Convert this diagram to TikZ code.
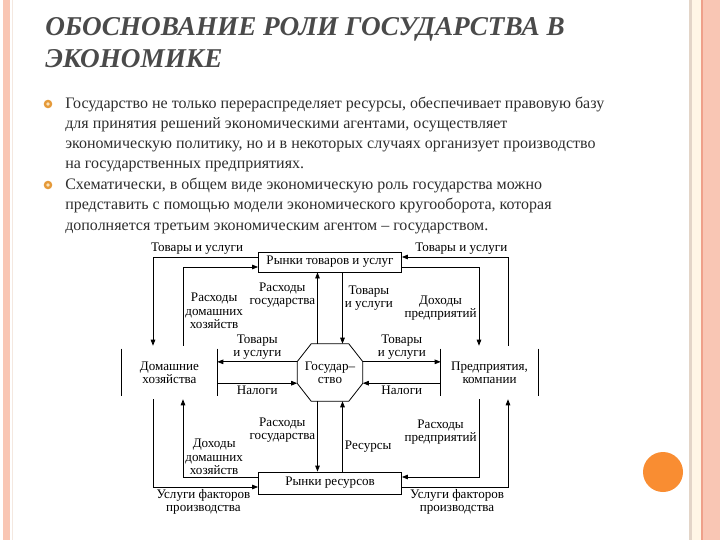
\documentclass[tikz,border=0pt]{standalone}
\usepackage{fontspec}
\setmainfont{Liberation Serif}
\usetikzlibrary{arrows.meta}

\definecolor{bandpink}{HTML}{F9C6B4}
\definecolor{bandline}{HTML}{F4E8E0}
\definecolor{bandbeige}{HTML}{E3D5C8}
\definecolor{bandcream}{HTML}{FFF6E6}
\definecolor{bandorange}{HTML}{EFA08A}
\definecolor{dotorange}{HTML}{F98D32}
\definecolor{titlegray}{HTML}{4A4A4A}
\definecolor{bodygray}{HTML}{2E2E2E}
\definecolor{bulletorange}{HTML}{E59A3A}
\definecolor{bulletpale}{HTML}{FBE3BC}

\begin{document}
\begin{tikzpicture}[x=0.75pt,y=-0.75pt,>={Triangle[length=4.5pt,width=3.4pt]},
  flow/.style={->,line width=.6pt},
  lbl/.style={font=\fontsize{9.8}{10}\selectfont,align=center,inner sep=1.5pt},
  mkt/.style={draw,line width=.6pt,minimum width=107.25pt,inner sep=0pt,
    font=\fontsize{9.8}{10}\selectfont},
  agent/.style={minimum height=39.75pt,inner sep=0pt,
    align=center,font=\fontsize{9.8}{10}\selectfont},
  bodyline/.style={anchor=base west,inner sep=0pt,text=bodygray,
    font=\fontsize{12}{15}\selectfont}]

\useasboundingbox (0,0) rectangle (720,540);
\fill[white] (0,0) rectangle (720,540);

% side bands
\fill[bandpink] (3,0) rectangle (10,540);
\draw[bandline,line width=.75pt] (12,0) -- (12,540);
\fill[bandbeige] (689,0) rectangle (691.5,540);
\fill[bandcream] (691.5,0) rectangle (700.5,540);
\fill[bandorange] (700.5,0) rectangle (703,540);
\fill[bandpink] (703,0) rectangle (720,540);
\fill[dotorange] (663,472) circle[radius=20];

% title
\node[anchor=base west,inner sep=0pt,text=titlegray,
  font=\fontsize{20.4}{24}\selectfont\bfseries\itshape] (title1) at (45,35)
  {ОБОСНОВАНИЕ РОЛИ ГОСУДАРСТВА В};
\node[anchor=base west,inner sep=0pt,text=titlegray,
  font=\fontsize{20.4}{24}\selectfont\bfseries\itshape] (title2) at (45,67)
  {ЭКОНОМИКЕ};

% bullets and text
\foreach \yb in {104,185}{
  \fill[bulletorange] (48,\yb) circle[radius=4.3];
  \fill[bulletpale] (48,\yb) circle[radius=1.8];
}
\foreach \t [count=\i] in {{Государство не только перераспределяет ресурсы, обеспечивает правовую базу},
    {для принятия решений экономическими агентами, осуществляет},
    {экономическую политику, но и в некоторых случаях организует производство},
    {на государственных предприятиях.}}
  \node[bodyline] (a\i) at (65,88+20*\i) {\t};
\foreach \t [count=\i] in {{Схематически, в общем виде экономическую роль государства можно},
    {представить с помощью модели экономического кругооборота, которая},
    {дополняется третьим экономическим агентом – государством.}}
  \node[bodyline] (b\i) at (65,168.5+20.5*\i) {\t};

% agents and markets
\node[mkt,minimum height=15pt] (gm) at (330,262) {Рынки товаров и услуг};
\node[mkt,minimum height=16.5pt] (rm) at (330,483) {Рынки ресурсов};
\node[agent,minimum width=71.25pt] (hh) at (169.5,372.5) {Домашние\\хозяйства};
\node[agent,minimum width=72.75pt] (firm) at (489.5,372.5) {Предприятия,\\компании};
\node[minimum width=48.75pt,minimum height=42.75pt,inner sep=0pt,align=center,
  font=\fontsize{9.8}{10}\selectfont] (gov) at (330,372.5) {Государ–\\ство};

\draw[line width=.6pt] ([xshift=10.5pt]gov.north west) -- ([xshift=-10.5pt]gov.north east)
  -- ([yshift=-13.4pt]gov.north east) -- ([yshift=13.4pt]gov.south east)
  -- ([xshift=-10.5pt]gov.south east) -- ([xshift=10.5pt]gov.south west)
  -- ([yshift=13.4pt]gov.south west) -- ([yshift=-13.4pt]gov.north west) -- cycle;
\foreach \n in {hh,firm}{
  \draw[line width=.6pt] ([yshift=-2.25pt]\n.north west) -- ([yshift=2.25pt]\n.south west);
  \draw[line width=.6pt] ([yshift=-2.25pt]\n.north east) -- ([yshift=2.25pt]\n.south east);
}

% goods market flows
\draw[flow] ([yshift=3.75pt]gm.west) -| ([xshift=-12.375pt]hh.north)
  node[lbl,pos=.29,above] (l1) {Товары и услуги};
\draw[flow] ([xshift=10.125pt]hh.north) |- ([yshift=-3.75pt]gm.west)
  node[lbl,pos=.22,right] (l2) {Расходы\\домашних\\хозяйств};
\draw[flow] ([xshift=13.875pt]firm.north) |- ([yshift=3.75pt]gm.east)
  node[lbl,pos=.72,above] (l3) {Товары и услуги};
\draw[flow] ([yshift=-3.75pt]gm.east) -| ([xshift=-7.875pt]firm.north)
  node[lbl,pos=.76,left] (l4) {Доходы\\предприятий};
\draw[flow] ([xshift=-9.375pt]gov.north) -- ([xshift=-9.375pt]gm.south)
  node[lbl,pos=.68,left] (l5) {Расходы\\государства};
\draw[flow] ([xshift=9.375pt]gm.south) -- ([xshift=9.375pt]gov.north)
  node[lbl,pos=.36,right] (l6) {Товары\\и услуги};

% state
\draw[flow] ([yshift=8pt]gov.west) -- ([yshift=8pt]hh.east)
  node[lbl,midway,above] (l7) {Товары\\и услуги};
\draw[flow] ([yshift=-8pt]hh.east) -- ([yshift=-8pt]gov.west)
  node[lbl,midway,below] (l8) {Налоги};
\draw[flow] ([yshift=8pt]gov.east) -- ([yshift=8pt]firm.west)
  node[lbl,midway,above] (l9) {Товары\\и услуги};
\draw[flow] ([yshift=-8pt]firm.west) -- ([yshift=-8pt]gov.east)
  node[lbl,midway,below] (l10) {Налоги};

% resource market flows
\draw[flow] ([xshift=-12.375pt]hh.south) |- ([yshift=-3pt]rm.west)
  node[lbl,pos=.74,below] (l11) {Услуги факторов\\производства};
\draw[flow] ([yshift=4.5pt]rm.west) -| ([xshift=10.125pt]hh.south)
  node[lbl,pos=.63,right] (l12) {Доходы\\домашних\\хозяйств};
\draw[flow] ([xshift=-9.375pt]gov.south) -- ([xshift=-9.375pt]rm.north)
  node[lbl,pos=.41,left] (l13) {Расходы\\государства};
\draw[flow] ([xshift=9.375pt]rm.north) -- ([xshift=9.375pt]gov.south)
  node[lbl,pos=.35,right] (l14) {Ресурсы};
\draw[flow] ([xshift=-7.875pt]firm.south) |- ([yshift=4.5pt]rm.east)
  node[lbl,pos=.21,left] (l15) {Расходы\\предприятий};
\draw[flow] ([yshift=-3pt]rm.east) -| ([xshift=13.875pt]firm.south)
  node[lbl,pos=.26,below] (l16) {Услуги факторов\\производства};

\end{tikzpicture}
\end{document}
